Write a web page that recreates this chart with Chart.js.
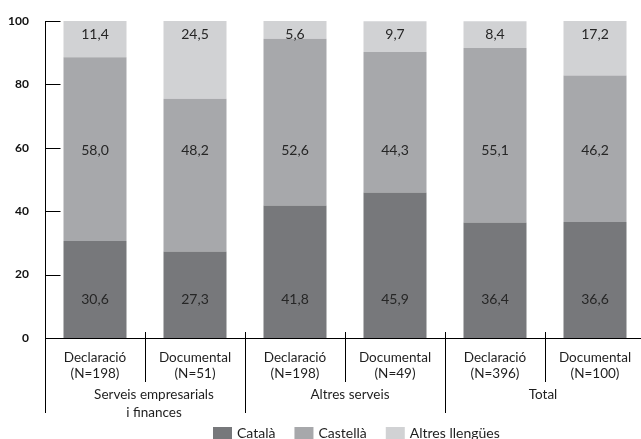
<!DOCTYPE html>
<html>
<head>
<meta charset="utf-8">
<script src="https://cdn.jsdelivr.net/npm/chart.js@4.4.1/dist/chart.umd.min.js"></script>
<style>
  html, body { margin: 0; padding: 0; background: #fff; overflow: hidden; }
  #wrap { width: 645px; height: 439px; }
</style>
</head>
<body>
<div id="wrap"><canvas id="chart" width="645" height="439"></canvas></div>
<script>
const categories = [
  ['Declaració', '(N=198)'],
  ['Documental', '(N=51)'],
  ['Declaració', '(N=198)'],
  ['Documental', '(N=49)'],
  ['Declaració', '(N=396)'],
  ['Documental', '(N=100)']
];
const groups = [['Serveis empresarials', 'i finances'], ['Altres serveis'], ['Total']];
const seriesNames = ['Català', 'Castellà', 'Altres llengües'];
const catala = [30.6, 27.3, 41.8, 45.9, 36.4, 36.6];
const castella = [58.0, 48.2, 52.6, 44.3, 55.1, 46.2];
const altres = [11.4, 24.5, 5.6, 9.7, 8.4, 17.2];
const yTicks = [0, 20, 40, 60, 80, 100];

const colors = ['#77787b', '#a7a8ab', '#d1d2d4'];
const FONT = 'Lato, "Open Sans", sans-serif';
const labelLevel = [12, 59, 95.6];      // where each series' values sit (y units)
const groupShift = [9, 5, -2];           // nudge for the group captions

const fmt = v => v.toFixed(1).replace('.', ',');

function line(ctx, x1, y1, x2, y2) {
  ctx.beginPath();
  ctx.moveTo(x1, y1);
  ctx.lineTo(x2, y2);
  ctx.stroke();
}

const decorations = {
  id: 'decorations',
  afterDatasetsDraw(chart) {
    const { ctx, chartArea, scales: { x, y } } = chart;
    const left = Math.round(chartArea.left) + 0.5;
    const bottom = chartArea.bottom;
    ctx.save();

    // values printed inside the bars
    ctx.font = `14px ${FONT}`;
    ctx.fillStyle = '#262626';
    ctx.textAlign = 'center';
    ctx.textBaseline = 'middle';
    chart.data.datasets.forEach((ds, i) => {
      const py = y.getPixelForValue(labelLevel[i]);
      ds.data.forEach((v, j) => ctx.fillText(fmt(v), x.getPixelForValue(j), py));
    });

    // inward tick marks on the value axis
    ctx.strokeStyle = '#000';
    ctx.lineWidth = 1;
    yTicks.slice(1).forEach(v => {
      const py = Math.round(y.getPixelForValue(v)) + 0.5;
      line(ctx, left, py, left + 15, py);
    });

    // axis extension and separators under the categories
    line(ctx, left, bottom, left, bottom + 75);
    for (let j = 0; j < categories.length - 1; j++) {
      const bx = Math.round((x.getPixelForValue(j) + x.getPixelForValue(j + 1)) / 2) + 0.5;
      line(ctx, bx, bottom - 6, bx, bottom + (j % 2 === 1 ? 75 : 44));
    }

    // group captions
    ctx.font = `13.5px ${FONT}`;
    ctx.fillStyle = '#1e1e1e';
    groups.forEach((g, k) => {
      const cx = (x.getPixelForValue(2 * k) + x.getPixelForValue(2 * k + 1)) / 2 + groupShift[k];
      g.forEach((t, n) => ctx.fillText(t, cx, bottom + 57 + n * 18));
    });

    // legend
    ctx.font = `14px ${FONT}`;
    ctx.textAlign = 'left';
    let lx = 213;
    chart.data.datasets.forEach(ds => {
      ctx.fillStyle = ds.backgroundColor;
      ctx.fillRect(lx, 427, 19, 12);
      ctx.fillStyle = '#1e1e1e';
      ctx.fillText(ds.label, lx + 24, 433);
      lx += 24 + ctx.measureText(ds.label).width + 19;
    });

    ctx.restore();
  }
};

new Chart(document.getElementById('chart'), {
  type: 'bar',
  data: {
    labels: categories,
    datasets: [catala, castella, altres].map((d, i) => ({
      label: seriesNames[i],
      data: d,
      backgroundColor: colors[i],
      borderWidth: 0,
      barPercentage: 0.63,
      categoryPercentage: 1
    }))
  },
  options: {
    responsive: false,
    animation: false,
    layout: { padding: { top: 21, left: 0, right: 0, bottom: 0 } },
    scales: {
      x: {
        stacked: true,
        afterFit: s => { s.height = 101; },
        grid: { display: false },
        border: { display: true, color: '#000', width: 1 },
        ticks: {
          autoSkip: false,
          maxRotation: 0,
          padding: 4,
          color: '#1e1e1e',
          font: { family: FONT, size: 13.5, lineHeight: 1.15 }
        }
      },
      y: {
        stacked: true,
        min: 0,
        max: 100,
        afterFit: s => { s.width = 45; },
        afterBuildTicks: s => { s.ticks = yTicks.map(v => ({ value: v })); },
        grid: { display: false },
        border: { display: true, color: '#000', width: 1 },
        ticks: {
          padding: 8,
          color: '#111',
          font: { family: FONT, size: 12, weight: 'bold' }
        }
      }
    },
    plugins: {
      legend: { display: false },
      tooltip: { enabled: false }
    }
  },
  plugins: [decorations]
});
</script>
</body>
</html>
